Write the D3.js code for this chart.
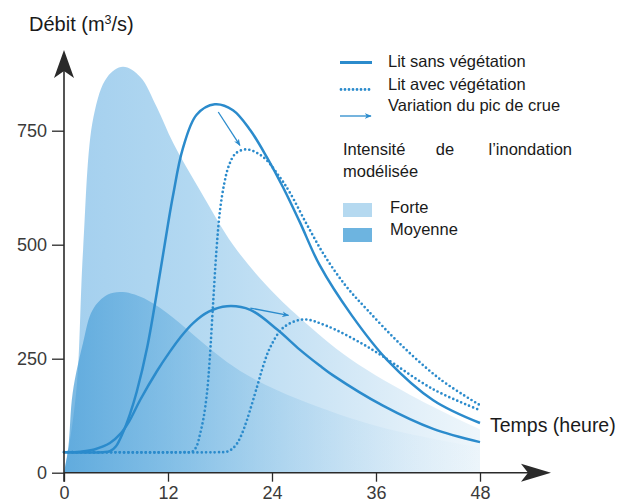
<!DOCTYPE html>
<html>
<head>
<meta charset="utf-8">
<script src="https://cdn.jsdelivr.net/npm/d3@7"></script>
<style>
  body { margin: 0; background: #fff; }
  svg { display: block; font-family: "Liberation Sans", Arial, sans-serif; }
</style>
</head>
<body>
<div id="chart"></div>
<script>
// hydrogrammes : débit (m3/s) en fonction du temps (heure)

const xTicks = [0, 12, 24, 36, 48];
const yTicks = [0, 250, 500, 750];

// lit sans végétation, crue forte
const sansForteHours  = [0, 4.5, 5.3, 6.0, 6.8, 7.6, 8.4, 9.6, 11.1, 12.0, 12.6, 13.7, 15.3, 17.4, 19.5, 21.5, 23.4, 25.3, 27.2, 29.5, 33.2, 37.3, 42.6, 48];
const sansForteValues = [45, 45, 47, 58, 88, 128, 178, 275, 440, 545, 610, 710, 785, 808, 795, 751, 692, 625, 550, 455, 345, 247, 159, 109];

// lit sans végétation, crue moyenne
const sansMoyHours  = [0, 1.2, 1.9, 3.5, 5.3, 6.5, 7.5, 8.8, 10.7, 12.2, 13.4, 14.9, 16.7, 18.8, 21.5, 24.6, 27.2, 29.5, 31, 36.8, 42.6, 48];
const sansMoyValues = [45, 45, 46, 51, 65, 85, 112, 160, 222, 265, 296, 328, 353, 365, 357, 314, 270, 235, 214, 147, 96, 67];

// lit avec végétation, crue forte
const avecForteHours  = [0, 14.0, 14.8, 15.3, 15.7, 16.1, 16.5, 16.8, 17.2, 17.6, 18.0, 18.5, 19.0, 19.8, 21.1, 23.0, 24.9, 26.1, 28, 30, 32.5, 35, 38.8, 43.4, 48];
const avecForteValues = [45, 45, 46, 58, 85, 120, 175, 245, 370, 490, 575, 635, 672, 700, 709, 692, 648, 613, 545, 478, 410, 357, 282, 205, 148];

// lit avec végétation, crue moyenne
const avecMoyHours  = [0, 18.0, 18.8, 19.4, 20.0, 20.5, 21.1, 22.3, 23.0, 23.8, 25.3, 27.6, 30.3, 34.2, 36.8, 42.6, 48];
const avecMoyValues = [45, 45, 46, 52, 65, 84, 115, 190, 235, 275, 318, 336, 322, 285, 255, 183, 137];

// intensité de l'inondation modélisée (aires)
const forteHours  = [0, 0.6, 1.5, 2.2, 3.4, 5, 6.8, 8.8, 10.7, 12.6, 15.7, 19.5, 23.4, 27.2, 33, 41, 48];
const forteValues = [0, 60, 196, 488, 780, 868, 890, 868, 802, 723, 619, 500, 410, 340, 250, 160, 95];
const moyHours  = [0, 0.5, 1, 2.2, 3.3, 5, 6.8, 9.6, 12.6, 15.7, 18.8, 22, 27.2, 36.5, 48];
const moyValues = [0, 56, 175, 285, 357, 390, 396, 379, 340, 290, 243, 205, 160, 100, 55];

// variation du pic de crue : [heure, débit] départ -> arrivée
const arrowForte = [[17.8, 791], [20.3, 718]];
const arrowMoy   = [[21.5, 361], [25.9, 345]];

const lineColor = "#2b8bcc";
const axisColor = "#2a2a2a";

const W = 618, H = 503;
const svg = d3.select("#chart").append("svg").attr("width", W).attr("height", H);

const x = d3.scaleLinear().domain([0, 48]).range([64, 480]);
const y = d3.scaleLinear().domain([0, 750]).range([472.7, 130.7]);

const defs = svg.append("defs");

const gForte = defs.append("linearGradient").attr("id", "gForte")
  .attr("gradientUnits", "userSpaceOnUse")
  .attr("x1", x(0)).attr("x2", x(48)).attr("y1", 0).attr("y2", 0);
[[0, "#a3cfee", 1], [0.3, "#b2d8f1", 1], [0.6, "#cbe4f5", 1], [0.85, "#e3f0f9", 1], [1, "#eef6fb", 1]]
  .forEach(s => gForte.append("stop").attr("offset", s[0]).attr("stop-color", s[1]).attr("stop-opacity", s[2]));

const gMoy = defs.append("linearGradient").attr("id", "gMoy")
  .attr("gradientUnits", "userSpaceOnUse")
  .attr("x1", x(0)).attr("x2", x(48)).attr("y1", 0).attr("y2", 0);
[[0, "#4a9fd8", 0.75], [0.25, "#55a6db", 0.5], [0.55, "#7dbbe4", 0.28], [0.8, "#a9d2ee", 0.15], [1, "#c8e2f3", 0.05]]
  .forEach(s => gMoy.append("stop").attr("offset", s[0]).attr("stop-color", s[1]).attr("stop-opacity", s[2]));

defs.append("marker").attr("id", "arrowHead")
  .attr("viewBox", "0 0 10 10").attr("refX", 9).attr("refY", 5)
  .attr("markerWidth", 7).attr("markerHeight", 7).attr("markerUnits", "userSpaceOnUse")
  .attr("orient", "auto")
  .append("path").attr("d", "M0,1 L10,5 L0,9 L3,5 Z").attr("fill", lineColor);

// aires
const area = d3.area().x(d => x(d[0])).y0(y(0)).y1(d => y(d[1])).curve(d3.curveCatmullRom.alpha(0.5));

svg.append("path")
  .datum(d3.zip(forteHours, forteValues))
  .attr("d", area)
  .attr("fill", "url(#gForte)");

svg.append("path")
  .datum(d3.zip(moyHours, moyValues))
  .attr("d", area)
  .attr("fill", "url(#gMoy)");

// courbes
const line = d3.line().x(d => x(d[0])).y(d => y(d[1])).curve(d3.curveCatmullRom.alpha(0.5));

const series = [
  { hours: sansForteHours, values: sansForteValues, dotted: false },
  { hours: sansMoyHours, values: sansMoyValues, dotted: false },
  { hours: avecForteHours, values: avecForteValues, dotted: true },
  { hours: avecMoyHours, values: avecMoyValues, dotted: true }
];

series.forEach(s => {
  const p = svg.append("path")
    .datum(d3.zip(s.hours, s.values))
    .attr("d", line)
    .attr("fill", "none")
    .attr("stroke", lineColor);
  if (s.dotted) {
    p.attr("stroke-width", 2.7).attr("stroke-linecap", "round").attr("stroke-dasharray", "0 4.3");
  } else {
    p.attr("stroke-width", 2.5);
  }
});

[arrowForte, arrowMoy].forEach(a => {
  svg.append("line")
    .attr("x1", x(a[0][0])).attr("y1", y(a[0][1]))
    .attr("x2", x(a[1][0])).attr("y2", y(a[1][1]))
    .attr("stroke", lineColor).attr("stroke-width", 1.3)
    .attr("marker-end", "url(#arrowHead)");
});

// axes
const yAxis = svg.append("g")
  .attr("transform", `translate(${x(0)},0)`)
  .call(d3.axisLeft(y).tickValues(yTicks).tickSize(12).tickPadding(5));
yAxis.select(".domain").remove();
yAxis.selectAll("line").attr("stroke", axisColor).attr("stroke-width", 1.3);
yAxis.selectAll("text").attr("fill", "#3a3a3a").style("font-size", "18px").style("font-family", "'Liberation Sans', Arial, sans-serif");

const xAxis = svg.append("g")
  .attr("transform", `translate(0,${y(0)})`)
  .call(d3.axisBottom(x).tickValues(xTicks).tickSize(9).tickPadding(5));
xAxis.select(".domain").remove();
xAxis.selectAll("line").attr("stroke", axisColor).attr("stroke-width", 1.3);
xAxis.selectAll("text").attr("fill", "#3a3a3a").style("font-size", "18px").style("font-family", "'Liberation Sans', Arial, sans-serif");

svg.append("line")
  .attr("x1", x(0)).attr("x2", x(0)).attr("y1", y(0) + 9).attr("y2", 60)
  .attr("stroke", axisColor).attr("stroke-width", 1.6);
svg.append("line")
  .attr("x1", x(0)).attr("x2", 540).attr("y1", y(0)).attr("y2", y(0))
  .attr("stroke", axisColor).attr("stroke-width", 1.6);

// pointes de flèche des axes
const ax0 = x(0);
svg.append("path")
  .attr("d", `M${ax0},50 L${ax0 + 10},78 L${ax0},71 L${ax0 - 10},78 Z`)
  .attr("fill", axisColor);
const ay0 = y(0);
svg.append("path")
  .attr("d", `M551,${ay0} L521,${ay0 - 9} L528,${ay0} L521,${ay0 + 9} Z`)
  .attr("fill", axisColor);

// titres des axes
const title = svg.append("text")
  .attr("x", 29).attr("y", 31)
  .attr("fill", "#1a1a1a")
  .style("font-size", "20px");
title.append("tspan").text("Débit (m");
title.append("tspan").attr("dy", -7).style("font-size", "12.5px").text("3");
title.append("tspan").attr("dy", 7).text("/s)");

svg.append("text")
  .attr("x", 490).attr("y", 432)
  .attr("fill", "#1a1a1a")
  .style("font-size", "19.5px")
  .text("Temps (heure)");

// légende
const legend = svg.append("g").style("font-size", "16.5px").attr("fill", "#1a1a1a");

legend.append("line").attr("x1", 340).attr("x2", 372).attr("y1", 62.5).attr("y2", 62.5)
  .attr("stroke", lineColor).attr("stroke-width", 3);
legend.append("text").attr("x", 388).attr("y", 66.5).text("Lit sans végétation");

legend.append("line").attr("x1", 341).attr("x2", 373).attr("y1", 89.5).attr("y2", 89.5)
  .attr("stroke", lineColor).attr("stroke-width", 2.8)
  .attr("stroke-linecap", "round").attr("stroke-dasharray", "0 4");
legend.append("text").attr("x", 388).attr("y", 89.5).text("Lit avec végétation");

legend.append("line").attr("x1", 340).attr("x2", 371).attr("y1", 116).attr("y2", 116)
  .attr("stroke", lineColor).attr("stroke-width", 1.3)
  .attr("marker-end", "url(#arrowHead)");
legend.append("text").attr("x", 388).attr("y", 110.5).text("Variation du pic de crue");

legend.append("text").attr("x", 343).attr("y", 154.5).text("Intensité");
legend.append("text").attr("x", 445).attr("y", 154.5).attr("text-anchor", "middle").text("de");
legend.append("text").attr("x", 572).attr("y", 154.5).attr("text-anchor", "end").text("l’inondation");
legend.append("text").attr("x", 343).attr("y", 176.5).text("modélisée");

legend.append("rect").attr("x", 343).attr("y", 203).attr("width", 29).attr("height", 14).attr("fill", "#b5d9f0");
legend.append("text").attr("x", 390).attr("y", 212.5).text("Forte");
legend.append("rect").attr("x", 343).attr("y", 228).attr("width", 29).attr("height", 14).attr("fill", "#6db4e0");
legend.append("text").attr("x", 390).attr("y", 235).text("Moyenne");
</script>
</body>
</html>
